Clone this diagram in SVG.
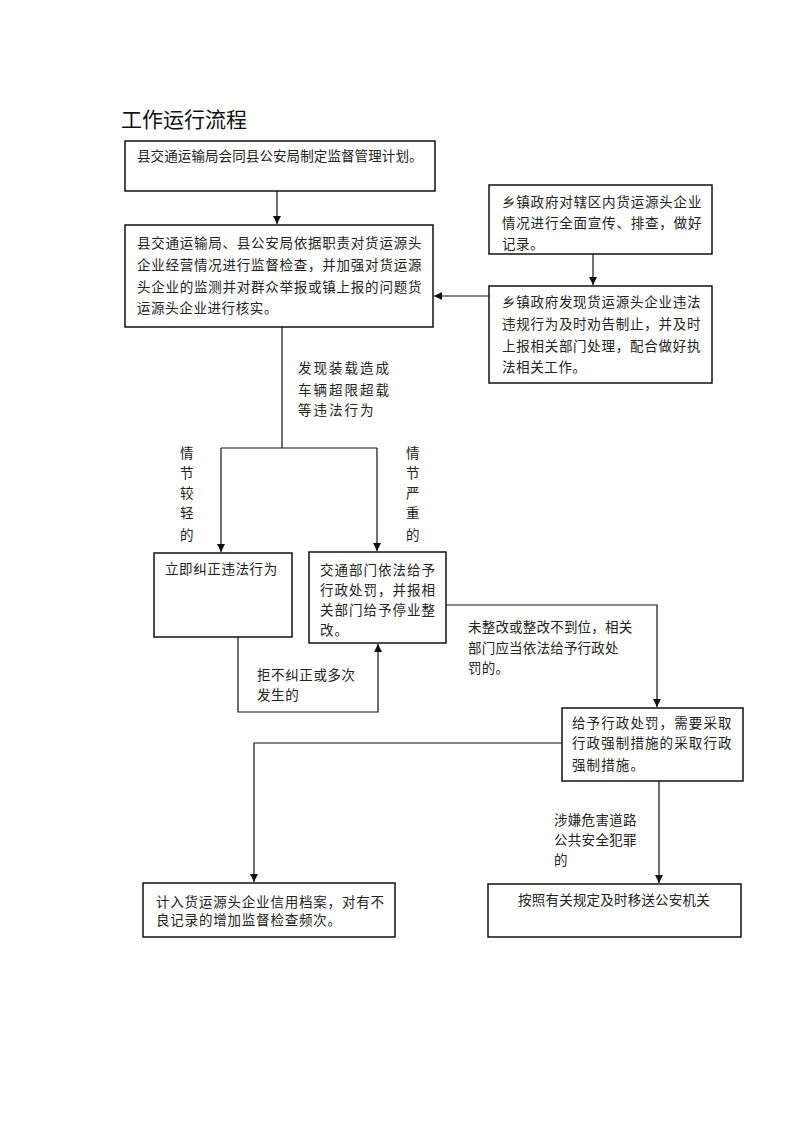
<svg xmlns="http://www.w3.org/2000/svg" width="793" height="1122" viewBox="0 0 793 1122">
<style>
.box{fill:#fff;stroke:#111;stroke-width:1.5}
.t{font-family:"Noto Sans CJK SC","Noto Sans",sans-serif;font-size:13.5px;fill:#222;letter-spacing:0.6px}
.title{font-family:"Noto Sans CJK SC","Noto Sans",sans-serif;font-size:21px;fill:#111}
.c{fill:none;stroke:#111;stroke-width:1.2}
</style>
<defs>
<marker id="ah" markerUnits="userSpaceOnUse" markerWidth="10" markerHeight="10" refX="8" refY="4" orient="auto">
<path d="M0,0 L8,4 L0,8 Z" fill="#111"/>
</marker>
</defs>
<rect width="793" height="1122" fill="#fff"/>
<text class="title" x="121" y="127">工作运行流程</text>

<g id="connectors">
<path class="c" d="M277,191 V224" marker-end="url(#ah)"/>
<path class="c" d="M593,254 V285" marker-end="url(#ah)"/>
<path class="c" d="M489,296 H434" marker-end="url(#ah)"/>
<path class="c" d="M282,327 V448"/>
<path class="c" d="M221,448 H377"/>
<path class="c" d="M221,448 V552" marker-end="url(#ah)"/>
<path class="c" d="M377,448 V551" marker-end="url(#ah)"/>
<path class="c" d="M238,637 V712 H378 V644" marker-end="url(#ah)"/>
<path class="c" d="M446,605 H657 V707" marker-end="url(#ah)"/>
<path class="c" d="M562,743 H254 V882" marker-end="url(#ah)"/>
<path class="c" d="M659,781 V883" marker-end="url(#ah)"/>
<g id="labels">
<text class="t" style="letter-spacing:2px"><tspan x="298" y="373">发现装载造成</tspan><tspan x="298" y="395">车辆超限超载</tspan><tspan x="298" y="415">等违法行为</tspan></text>
<text class="t" text-anchor="middle"><tspan x="187" y="458">情</tspan><tspan x="187" y="478">节</tspan><tspan x="187" y="498">较</tspan><tspan x="187" y="518">轻</tspan><tspan x="187" y="540">的</tspan></text>
<text class="t" text-anchor="middle"><tspan x="413" y="458">情</tspan><tspan x="413" y="478">节</tspan><tspan x="413" y="498">严</tspan><tspan x="413" y="518">重</tspan><tspan x="413" y="540">的</tspan></text>
<text class="t"><tspan x="257" y="680">拒不纠正或多次</tspan><tspan x="257" y="700">发生的</tspan></text>
<text class="t" style="letter-spacing:0.2px"><tspan x="468" y="632">未整改或整改不到位，相关</tspan><tspan x="468" y="653">部门应当依法给予行政处</tspan><tspan x="468" y="673">罚的。</tspan></text>
<text class="t" style="letter-spacing:0.3px"><tspan x="554" y="825">涉嫌危害道路</tspan><tspan x="554" y="845">公共安全犯罪</tspan><tspan x="554" y="865">的</tspan></text>
</g>
</g>

<g id="n1">
<rect class="box" x="125" y="141" width="310" height="50"/>
<text class="t" x="137" y="161" style="letter-spacing:0.1px">县交通运输局会同县公安局制定监督管理计划。</text>
</g>
<g id="n2">
<rect class="box" x="125" y="225" width="308" height="102"/>
<text class="t"><tspan x="137" y="248" textLength="285" lengthAdjust="spacing">县交通运输局、县公安局依据职责对货运源头</tspan><tspan x="137" y="270" textLength="285" lengthAdjust="spacing">企业经营情况进行监督检查，并加强对货运源</tspan><tspan x="137" y="292" textLength="285" lengthAdjust="spacing">头企业的监测并对群众举报或镇上报的问题货</tspan><tspan x="137" y="313">运源头企业进行核实。</tspan></text>
</g>
<g id="n3">
<rect class="box" x="489" y="185" width="223" height="69"/>
<text class="t"><tspan x="502" y="207" textLength="200" lengthAdjust="spacing">乡镇政府对辖区内货运源头企业</tspan><tspan x="502" y="228" textLength="200" lengthAdjust="spacing">情况进行全面宣传、排查，做好</tspan><tspan x="502" y="249">记录。</tspan></text>
</g>
<g id="n4">
<rect class="box" x="489" y="286" width="223" height="97"/>
<text class="t"><tspan x="502" y="307" textLength="199" lengthAdjust="spacing">乡镇政府发现货运源头企业违法</tspan><tspan x="502" y="329" textLength="199" lengthAdjust="spacing">违规行为及时劝告制止，并及时</tspan><tspan x="502" y="351" textLength="199" lengthAdjust="spacing">上报相关部门处理，配合做好执</tspan><tspan x="502" y="372">法相关工作。</tspan></text>
</g>
<g id="n5">
<rect class="box" x="154" y="553" width="138" height="84"/>
<text class="t" x="165" y="574">立即纠正违法行为</text>
</g>
<g id="n6">
<rect class="box" x="309" y="552" width="137" height="91"/>
<text class="t" style="letter-spacing:1px"><tspan x="320" y="575">交通部门依法给予</tspan><tspan x="320" y="595">行政处罚，并报相</tspan><tspan x="320" y="615">关部门给予停业整</tspan><tspan x="320" y="635">改。</tspan></text>
</g>
<g id="n7">
<rect class="box" x="562" y="708" width="181" height="73"/>
<text class="t" style="letter-spacing:1.1px"><tspan x="572" y="728">给予行政处罚，需要采取</tspan><tspan x="572" y="748">行政强制措施的采取行政</tspan><tspan x="572" y="770">强制措施。</tspan></text>
</g>
<g id="n8">
<rect class="box" x="143" y="883" width="252" height="54"/>
<text class="t" style="letter-spacing:0.8px"><tspan x="156" y="907">计入货运源头企业信用档案，对有不</tspan><tspan x="156" y="925">良记录的增加监督检查频次。</tspan></text>
</g>
<g id="n9">
<rect class="box" x="488" y="884" width="253" height="53"/>
<text class="t" x="614" y="905" text-anchor="middle" style="letter-spacing:0.2px">按照有关规定及时移送公安机关</text>
</g>
</svg>
